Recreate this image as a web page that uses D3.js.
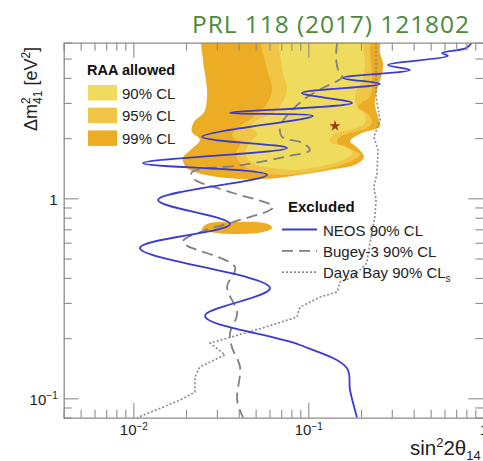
<!DOCTYPE html>
<html>
<head>
<meta charset="utf-8">
<script src="https://cdn.jsdelivr.net/npm/d3@7"></script>
<style>
  body { margin: 0; background: #fff; }
  svg { display: block; font-family: "Liberation Sans", Arial, sans-serif; }
</style>
</head>
<body>
<svg id="chart"></svg>
<script>
// data: [sin^2 2theta14, dm^2_41 (eV^2)]
const neosCurve = [
  [0.861, 6.0], [0.796, 5.64], [0.581, 5.33], [0.628, 5.15], [0.285, 4.64], [0.381, 4.38],
  [0.158, 4.00], [0.257, 3.73], [0.092, 3.36], [0.178, 3.00], [0.0357, 2.67], [0.106, 2.58],
  [0.0247, 2.03], [0.0755, 1.785], [0.01135, 1.50], [0.0581, 1.31], [0.01384, 0.981],
  [0.0357, 0.744], [0.0109, 0.564], [0.0604, 0.356], [0.0257, 0.258], [0.0897, 0.1847],
  [0.166, 0.1417], [0.173, 0.110], [0.190, 0.08]
];
const bugeyCurve = [
  [0.146, 6.0], [0.144, 5.03], [0.148, 4.38], [0.156, 4.04], [0.121, 3.56], [0.0933, 3.10],
  [0.0736, 2.52], [0.0689, 2.27], [0.0708, 2.03], [0.0933, 1.89], [0.102, 1.74], [0.0785, 1.63],
  [0.0424, 1.47], [0.0216, 1.35], [0.0219, 1.26], [0.0372, 1.063], [0.0628, 0.905],
  [0.0372, 0.761], [0.0250, 0.686], [0.0192, 0.605], [0.0381, 0.453], [0.0343, 0.360],
  [0.0392, 0.267], [0.0357, 0.212], [0.0366, 0.180], [0.0407, 0.1434], [0.0392, 0.098], [0.0424, 0.08]
];
const dayaBayCurve = [
  [0.244, 6.0], [0.244, 3.21], [0.257, 2.46], [0.237, 2.03], [0.250, 1.74], [0.247, 1.34],
  [0.237, 1.139], [0.244, 0.981], [0.240, 0.806], [0.225, 0.598], [0.216, 0.475], [0.180, 0.404],
  [0.152, 0.382], [0.146, 0.340], [0.117, 0.321], [0.0897, 0.286], [0.0861, 0.255], [0.0551, 0.225],
  [0.0275, 0.189], [0.0334, 0.165], [0.0240, 0.1434], [0.0225, 0.128], [0.0225, 0.1075],
  [0.0185, 0.098], [0.0105, 0.08]
];
const raa99 = [
  [0.0257, 7.0], [0.0250, 4.91], [0.0260, 3.91], [0.0264, 3.29], [0.0254, 2.70], [0.0222, 2.41],
  [0.0216, 2.15], [0.0240, 1.96], [0.0211, 1.74], [0.0192, 1.59], [0.0200, 1.43], [0.0257, 1.31],
  [0.0407, 1.249], [0.0646, 1.26], [0.0897, 1.31], [0.133, 1.385], [0.185, 1.47], [0.208, 1.61],
  [0.192, 1.785], [0.173, 1.93], [0.197, 2.10], [0.257, 2.30], [0.250, 2.55], [0.240, 3.00],
  [0.250, 3.60], [0.264, 4.23], [0.267, 4.75], [0.257, 5.33], [0.247, 7.0]
];
const raa99Island = [
  [0.0250, 0.719], [0.0274, 0.753], [0.0372, 0.761], [0.0509, 0.761], [0.0604, 0.735],
  [0.0621, 0.710], [0.0551, 0.678], [0.0407, 0.663], [0.0301, 0.670], [0.0247, 0.694]
];
const raa95 = [
  [0.0551, 7.0], [0.0573, 4.64], [0.0621, 3.48], [0.0573, 2.93], [0.0476, 2.52], [0.0396, 2.25],
  [0.0366, 2.07], [0.0407, 1.85], [0.0386, 1.70], [0.0407, 1.50], [0.0509, 1.35], [0.0736, 1.31],
  [0.102, 1.35], [0.138, 1.43], [0.180, 1.55], [0.197, 1.65], [0.180, 1.74], [0.146, 1.89],
  [0.152, 2.03], [0.216, 2.25], [0.231, 2.41], [0.216, 2.67], [0.192, 2.86], [0.203, 3.03],
  [0.225, 3.21], [0.231, 4.23], [0.225, 5.33], [0.219, 7.0]
];
const raa90 = [
  [0.0716, 7.0], [0.0716, 4.23], [0.0755, 3.48], [0.0662, 2.76], [0.0509, 2.46], [0.0465, 2.27],
  [0.0509, 2.12], [0.0465, 1.89], [0.0435, 1.68], [0.0483, 1.50], [0.0604, 1.42], [0.0861, 1.385],
  [0.128, 1.47], [0.166, 1.59], [0.180, 1.68], [0.166, 1.80], [0.133, 1.91], [0.138, 2.07],
  [0.206, 2.33], [0.211, 2.61], [0.190, 2.86], [0.185, 3.29], [0.203, 3.91], [0.211, 4.75],
  [0.206, 5.71], [0.203, 7.0]
];
const bestFit = [0.142, 2.30];

const xTicks = [0.005, 0.006, 0.007, 0.008, 0.009, 0.01, 0.02, 0.03, 0.04, 0.05, 0.06, 0.07, 0.08, 0.09,
  0.1, 0.2, 0.3, 0.4, 0.5, 0.6, 0.7, 0.8, 0.9, 1];
const yTicks = [0.09, 0.1, 0.2, 0.3, 0.4, 0.5, 0.6, 0.7, 0.8, 0.9, 1, 2, 3, 4, 5];
const xMajor = [0.01, 0.1, 1];
const yMajor = [0.1, 1];

const raaLabels = ["90% CL", "95% CL", "99% CL"];
const raaColors = ["#efdc5e", "#f1c545", "#ecad24"];
const excludedLabels = ["NEOS 90% CL", "Bugey-3 90% CL", "Daya Bay 90% CL"];

const width = 483, height = 461;
const margin = { top: 42.7, right: 0, bottom: 43.3, left: 63.7 };

const svg = d3.select("#chart").attr("width", width).attr("height", height);

// Scales
const x = d3.scaleLog().domain([0.004, 1]).range([margin.left, 483.3]);
const y = d3.scaleLog().domain([0.08, 6]).range([height - margin.bottom, margin.top]);

svg.append("clipPath").attr("id", "plot-clip")
  .append("rect")
  .attr("x", x(0.004)).attr("y", y(6))
  .attr("width", x(1) - x(0.004)).attr("height", y(0.08) - y(6));

const plot = svg.append("g").attr("clip-path", "url(#plot-clip)");

// allowed regions
const area = d3.line()
  .x(d => x(d[0])).y(d => y(d[1]))
  .curve(d3.curveCatmullRomClosed.alpha(0.5));

plot.append("path").attr("d", area(raa99)).attr("fill", raaColors[2]);
plot.append("path").attr("d", area(raa99Island)).attr("fill", raaColors[2]);
plot.append("path").attr("d", area(raa95)).attr("fill", raaColors[1]);
plot.append("path").attr("d", area(raa90)).attr("fill", raaColors[0]);

// exclusion curves
const smooth = d3.line().x(d => x(d[0])).y(d => y(d[1])).curve(d3.curveCatmullRom.alpha(0.5));
const straight = d3.line().x(d => x(d[0])).y(d => y(d[1]));

plot.append("path").attr("d", straight(dayaBayCurve))
  .attr("fill", "none").attr("stroke", "#8a8a8a").attr("stroke-width", 1.6)
  .attr("stroke-dasharray", "2,2");

plot.append("path").attr("d", smooth(bugeyCurve))
  .attr("fill", "none").attr("stroke", "#808080").attr("stroke-width", 1.8)
  .attr("stroke-dasharray", "11,6");

plot.append("path").attr("d", smooth(neosCurve))
  .attr("fill", "none").attr("stroke", "#3a3ad6").attr("stroke-width", 1.8);

// best fit star
plot.append("path")
  .attr("d", d3.symbol(d3.symbolStar, 40)())
  .attr("transform", `translate(${x(bestFit[0])},${y(bestFit[1])})`)
  .attr("fill", "#a2391f");

// Axes
const axisColor = "#8c8c8c";
function styleAxis(g, majors, sign) {
  g.select(".domain").attr("stroke", axisColor).attr("stroke-width", 1.3);
  g.selectAll(".tick line").attr("stroke", axisColor).attr("stroke-width", 1.1)
    .each(function (d) {
      const len = majors.includes(d) ? 15 : 8;
      const line = d3.select(this);
      if (line.attr("x2") != null && +line.attr("x2") !== 0) line.attr("x2", sign * len);
      else line.attr("y2", sign * len);
    });
}
function powLabel(sel, d) {
  sel.text(null);
  if (d === 1) { sel.text("1"); return; }
  const e = Math.round(Math.log10(d));
  sel.append("tspan").text("10");
  sel.append("tspan").attr("font-size", 10).attr("dy", "-0.55em").text("\u2212" + Math.abs(e));
}

const xAxisG = svg.append("g")
  .attr("transform", `translate(0,${y(0.08)})`)
  .call(d3.axisBottom(x).tickValues(xTicks).tickSize(-8).tickPadding(7).tickFormat(""));
styleAxis(xAxisG, xMajor, -1);
xAxisG.selectAll(".tick text")
  .attr("font-size", 15).attr("fill", "#222")
  .each(function (d) { if (xMajor.includes(d)) powLabel(d3.select(this), d); });

const yAxisG = svg.append("g")
  .attr("transform", `translate(${x(0.004)},0)`)
  .call(d3.axisLeft(y).tickValues(yTicks).tickSize(-8).tickPadding(6).tickFormat(""));
styleAxis(yAxisG, yMajor, 1);
yAxisG.selectAll(".tick text")
  .attr("font-size", 15).attr("fill", "#222").attr("dy", "0.4em")
  .each(function (d) { if (yMajor.includes(d)) powLabel(d3.select(this), d); });

const topG = svg.append("g")
  .attr("transform", `translate(0,${y(6)})`)
  .call(d3.axisTop(x).tickValues(xTicks).tickSize(-8).tickFormat(""));
styleAxis(topG, xMajor, 1);

const rightG = svg.append("g")
  .attr("transform", `translate(${x(1)},0)`)
  .call(d3.axisRight(y).tickValues(yTicks).tickSize(-8).tickFormat(""));
styleAxis(rightG, yMajor, -1);

// axis titles
const yTitle = svg.append("text")
  .attr("transform", `translate(37,131) rotate(-90)`)
  .attr("font-size", 18).attr("fill", "#222");
yTitle.append("tspan").text("\u0394m");
yTitle.append("tspan").attr("font-size", 12).attr("dy", -7).text("2");
yTitle.append("tspan").attr("font-size", 12).attr("dx", -6.7).attr("dy", 12).text("41");
yTitle.append("tspan").attr("dy", -5).text(" [eV");
yTitle.append("tspan").attr("font-size", 12).attr("dy", -7).text("2");
yTitle.append("tspan").attr("dy", 7).text("]");

const xTitle = svg.append("text")
  .attr("x", 410).attr("y", 455)
  .attr("font-size", 20.5).attr("fill", "#222");
xTitle.append("tspan").text("sin");
xTitle.append("tspan").attr("font-size", 13).attr("dy", -8).text("2");
xTitle.append("tspan").attr("dy", 8).text("2\u03b8");
xTitle.append("tspan").attr("font-size", 13).attr("dy", 5).text("14");

// RAA legend
svg.append("text").attr("x", 87).attr("y", 75)
  .attr("font-size", 14.5).attr("font-weight", "bold").attr("fill", "#111")
  .text("RAA allowed");
raaLabels.forEach((label, i) => {
  svg.append("rect")
    .attr("x", 88).attr("y", 85 + i * 22.7)
    .attr("width", 29).attr("height", 15.5)
    .attr("fill", raaColors[i]);
  svg.append("text")
    .attr("x", 122).attr("y", 98.5 + i * 22.7)
    .attr("font-size", 15).attr("fill", "#222")
    .text(label);
});

// Excluded legend
svg.append("text").attr("x", 288).attr("y", 212)
  .attr("font-size", 15).attr("font-weight", "bold").attr("fill", "#111")
  .text("Excluded");
const legendStyles = [
  { stroke: "#3a3ad6", dash: null, w: 1.8 },
  { stroke: "#808080", dash: "11,6", w: 1.8 },
  { stroke: "#8a8a8a", dash: "2,2", w: 1.6 }
];
excludedLabels.forEach((label, i) => {
  const ly = 229.5 + i * 21.3;
  svg.append("line")
    .attr("x1", 282).attr("x2", 317).attr("y1", ly).attr("y2", ly)
    .attr("stroke", legendStyles[i].stroke).attr("stroke-width", legendStyles[i].w)
    .attr("stroke-dasharray", legendStyles[i].dash);
  const t = svg.append("text")
    .attr("x", 323).attr("y", ly + 6)
    .attr("font-size", 15).attr("fill", "#222")
    .text(label);
  if (i === 2) t.append("tspan").attr("font-size", 10).attr("dy", 4).text("s");
});

// reference title
svg.append("text")
  .attr("x", 469).attr("y", 33)
  .attr("text-anchor", "end")
  .attr("font-family", "'Open Sans', sans-serif")
  .attr("font-size", 24.5).attr("fill", "#4b8a3b")
  .attr("textLength", 277).attr("lengthAdjust", "spacing")
  .text("PRL 118 (2017) 121802");
</script>
</body>
</html>
